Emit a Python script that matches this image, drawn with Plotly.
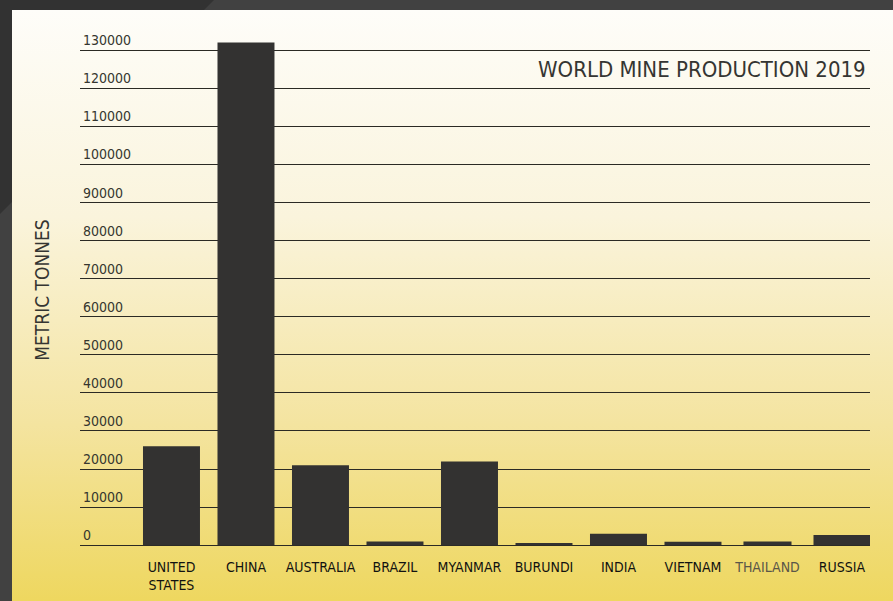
import base64
import plotly.graph_objects as go

# ---- data ----
countries = ["UNITED STATES", "CHINA", "AUSTRALIA", "BRAZIL", "MYANMAR",
             "BURUNDI", "INDIA", "VIETNAM", "THAILAND", "RUSSIA"]
tick_text = ["UNITED<br>STATES", "CHINA", "AUSTRALIA", "BRAZIL", "MYANMAR",
             "BURUNDI", "INDIA", "VIETNAM",
             "<span style='color:#5a5648'>THAILAND</span>", "RUSSIA"]
production = [26000, 132000, 21000, 1000, 22000, 600, 3000, 900, 1000, 2700]
y_ticks = [0, 10000, 20000, 30000, 40000, 50000, 60000, 70000,
           80000, 90000, 100000, 110000, 120000, 130000]

W, H = 893, 601
ML, MR, MT, MB = 80, 23, 31, 52
PW, PH = W - ML - MR, H - MT - MB

def px_x(x):
    return (x - ML) / PW

def px_y(y):
    return (H - MB - y) / PH

FONT = "DejaVu Sans Condensed, Liberation Sans Narrow, sans-serif"

svg = f"""<svg xmlns='http://www.w3.org/2000/svg' width='{W}' height='{H}' viewBox='0 0 {W} {H}' preserveAspectRatio='none'>
<defs><linearGradient id='g' x1='0' y1='0' x2='0' y2='1'>
<stop offset='0' stop-color='#fefdf9'/>
<stop offset='0.35' stop-color='#faf4dc'/>
<stop offset='0.7' stop-color='#f4e4a0'/>
<stop offset='1' stop-color='#eed75f'/>
</linearGradient></defs>
<rect x='0' y='0' width='{W}' height='{H}' fill='#414141'/>
<polygon points='0,0 214,0 0,214' fill='#323232'/>
<rect x='12' y='10' width='{W - 12}' height='{H - 10}' fill='url(#g)'/></svg>"""
svg_uri = "data:image/svg+xml;base64," + base64.b64encode(svg.encode()).decode()

widths = [0.765] * len(countries)
widths[8] = 0.645

fig = go.Figure(go.Bar(
    x=countries, y=production, width=widths,
    marker=dict(color="#333231", line=dict(width=0)),
    hoverinfo="x+y",
))

fig.update_layout(
    width=W, height=H,
    margin=dict(l=ML, r=MR, t=MT, b=MB, autoexpand=False),
    paper_bgcolor="#414141",
    plot_bgcolor="rgba(0,0,0,0)",
    showlegend=False,
    font=dict(family=FONT, color="#3a3a36"),
    images=[dict(source=svg_uri, xref="paper", yref="paper",
                 x=px_x(0), y=px_y(0), sizex=W / PW, sizey=H / PH,
                 xanchor="left", yanchor="top", sizing="stretch", layer="below")],
    annotations=[dict(text="WORLD MINE PRODUCTION 2019", xref="paper", yref="y",
                      x=1, y=124800, xanchor="right", yanchor="middle", xshift=-2,
                      showarrow=False,
                      font=dict(family=FONT, size=22, color="#353532"))],
)

fig.update_xaxes(
    type="category", categoryorder="array", categoryarray=countries,
    tickvals=countries, ticktext=tick_text,
    range=[-1.228, 9.376],
    showgrid=False, showline=False, ticks="", automargin=False,
    ticklabelstandoff=8,
    tickfont=dict(family=FONT, size=14, color="#121210"),
)
fig.update_yaxes(
    range=[-1000, 135000],
    tickvals=y_ticks, ticktext=[str(v) for v in y_ticks],
    ticklabelposition="inside top", automargin=False,
    tickfont=dict(family=FONT, size=14, color="#36362f"),
    showgrid=True, gridcolor="#2b2a24", gridwidth=1.3,
    zeroline=True, zerolinecolor="#2b2a24", zerolinewidth=1.3,
    showline=False, ticks="",
    title=dict(text="METRIC TONNES", standoff=28,
               font=dict(family=FONT, size=19, color="#353532")),
)

fig.write_html("out.html")
